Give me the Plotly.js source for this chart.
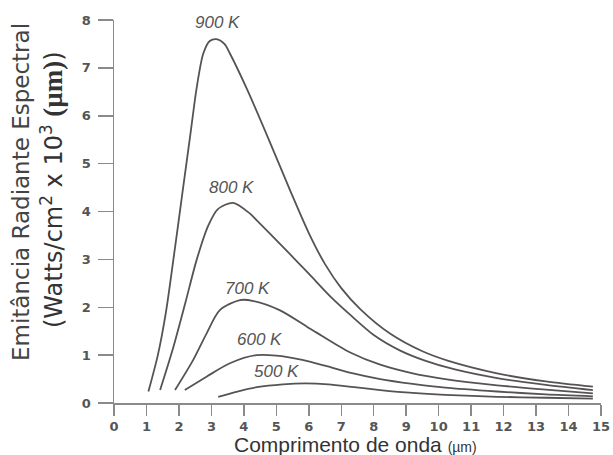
<!DOCTYPE html>
<html>
<head>
<meta charset="utf-8">
<script src="https://cdn.plot.ly/plotly-3.0.1.min.js"></script>
<style>
  html, body { margin: 0; padding: 0; background: #fff; }
  #chart { width: 613px; height: 455px; }
</style>
</head>
<body>
<div id="chart"></div>
<script>
// ---- Data ----
const seriesNames = ["900 K", "800 K", "700 K", "600 K", "500 K"];

const x900 = [1.06, 1.35, 1.6, 1.85, 2.1, 2.35, 2.55, 2.75, 2.95, 3.15, 3.4, 3.57, 4.1, 4.8, 5.45, 6.0, 6.5, 7.0, 7.6, 8.5, 9.5, 10.3, 11.8, 13.3, 14.75];
const y900 = [0.24, 1.0, 1.9, 3.1, 4.35, 5.6, 6.6, 7.3, 7.56, 7.6, 7.5, 7.3, 6.55, 5.45, 4.4, 3.55, 2.9, 2.4, 1.95, 1.45, 1.08, 0.88, 0.62, 0.45, 0.34];

const x800 = [1.42, 1.8, 2.2, 2.55, 2.9, 3.2, 3.67, 4.18, 4.39, 5.15, 6.0, 6.7, 7.26, 8.0, 8.8, 9.6, 10.5, 11.8, 13.3, 14.75];
const y800 = [0.27, 1.1, 2.1, 3.0, 3.7, 4.05, 4.18, 3.96, 3.82, 3.3, 2.7, 2.2, 1.85, 1.42, 1.1, 0.88, 0.7, 0.52, 0.38, 0.27];

const x700 = [1.88, 2.44, 2.85, 3.26, 3.88, 4.3, 5.1, 5.93, 6.24, 7.26, 8.2, 9.2, 10.2, 11.8, 13.3, 14.75];
const y700 = [0.27, 0.9, 1.45, 1.94, 2.15, 2.13, 1.94, 1.6, 1.47, 1.06, 0.8, 0.62, 0.5, 0.37, 0.28, 0.2];

const x600 = [2.18, 2.85, 3.57, 4.39, 5.0, 5.8, 6.5, 7.3, 8.2, 9.2, 10.2, 11.8, 13.3, 14.75];
const y600 = [0.27, 0.55, 0.83, 1.0, 0.99, 0.9, 0.78, 0.63, 0.5, 0.4, 0.32, 0.24, 0.18, 0.14];

const x500 = [3.21, 3.8, 4.4, 5.2, 5.9, 6.6, 7.4, 8.2, 9.2, 10.2, 11.8, 13.3, 14.75];
const y500 = [0.13, 0.24, 0.33, 0.39, 0.41, 0.39, 0.33, 0.27, 0.21, 0.17, 0.13, 0.11, 0.09];

const xTickVals = [0,1,2,3,4,5,6,7,8,9,10,11,12,13,14,15];
const yTickVals = [0,1,2,3,4,5,6,7,8];

// curve label anchor points (data units)
const labelX = [3.2, 3.63, 4.12, 4.49, 5.02];
const labelY = [7.94, 4.51, 2.40, 1.32, 0.65];

const yTitle1 = "Emitância Radiante Espectral";
const yTitle2 = "(Watts/cm<sup>2</sup> x 10<sup>3</sup> <span style=\"font-family:'Liberation Serif', serif;font-weight:bold;font-size:27px\">(µm)</span>)";
const xTitle = "Comprimento de onda <span style=\"font-size:14px\">(µm)</span>";

// ---- Build chart ----
const xs = [x900, x800, x700, x600, x500];
const ys = [y900, y800, y700, y600, y500];
const lineColor = "#575355";

const traces = xs.map((xv, i) => ({
  x: xv, y: ys[i], name: seriesNames[i],
  type: "scatter", mode: "lines",
  line: { color: lineColor, width: 1.8, shape: "spline", smoothing: 0.8 },
  hoverinfo: "skip"
}));

const axisColor = "#8a8a8a";
const tickFont = { family: "DejaVu Sans, sans-serif", size: 13, color: "#555", weight: "bold" };

const annotations = seriesNames.map((t, i) => ({
  x: labelX[i], y: labelY[i], xref: "x", yref: "y",
  text: t, showarrow: false,
  font: { family: "Liberation Sans, Arial, sans-serif", size: 17, color: "#555", style: "italic" },
  xanchor: "center", yanchor: "middle"
}));

// axis titles as annotations (paper coords)
annotations.push({
  xref: "paper", yref: "paper", x: (21 - 114) / 487, y: (403 - 192) / 383,
  text: yTitle1, textangle: -90, showarrow: false,
  font: { family: "DejaVu Sans, sans-serif", size: 23, color: "#444" },
  xanchor: "center", yanchor: "middle"
});
annotations.push({
  xref: "paper", yref: "paper", x: (52 - 114) / 487, y: (403 - 190) / 383,
  text: yTitle2, textangle: -90, showarrow: false,
  font: { family: "DejaVu Sans, sans-serif", size: 24, color: "#333" },
  xanchor: "center", yanchor: "middle"
});
annotations.push({
  xref: "paper", yref: "paper", x: (355 - 114) / 487, y: (403 - 444) / 383,
  text: xTitle, showarrow: false,
  font: { family: "Liberation Sans, Arial, sans-serif", size: 21, color: "#333" },
  xanchor: "center", yanchor: "middle"
});

const layout = {
  width: 613, height: 455,
  margin: { l: 114, r: 12, t: 20, b: 52, pad: 0 },
  paper_bgcolor: "#fff", plot_bgcolor: "#fff",
  showlegend: false,
  xaxis: {
    range: [0, 15], tickvals: xTickVals, ticks: "outside", ticklen: 11, tickwidth: 1.5,
    tickcolor: axisColor, showline: true, linecolor: axisColor, linewidth: 1.5,
    showgrid: false, zeroline: false, tickfont: tickFont, fixedrange: true
  },
  yaxis: {
    range: [0, 8], tickvals: yTickVals, ticks: "outside", ticklen: 15, tickwidth: 1.5,
    tickcolor: axisColor, showline: true, linecolor: axisColor, linewidth: 1.5,
    showgrid: false, zeroline: false, tickfont: tickFont, ticklabelstandoff: 4, fixedrange: true
  },
  annotations: annotations
};

Plotly.newPlot("chart", traces, layout, { displayModeBar: false, staticPlot: true });
</script>
</body>
</html>
